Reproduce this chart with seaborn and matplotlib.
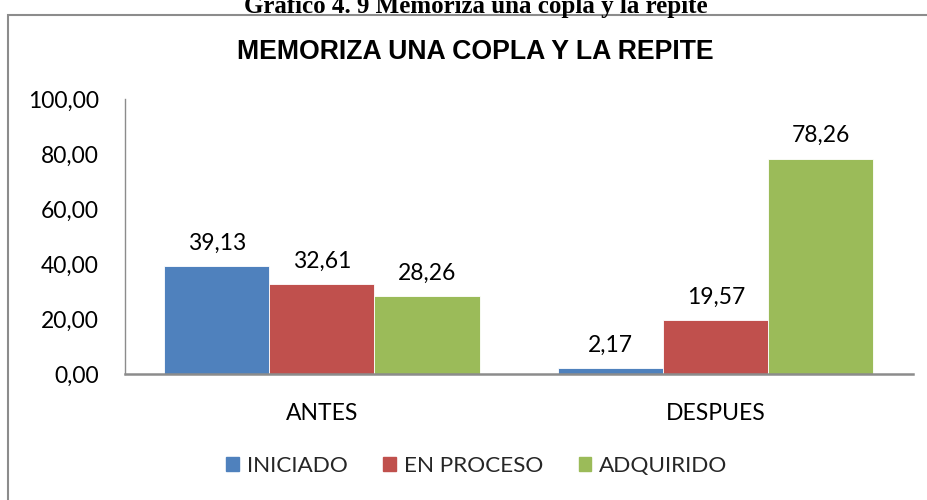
import seaborn as sns
import matplotlib.pyplot as plt
import matplotlib.patches as mpatches
import pandas as pd

# data
momentos = ["ANTES", "DESPUES"]
niveles = ["INICIADO", "EN PROCESO", "ADQUIRIDO"]
iniciado = [39.13, 2.17]
en_proceso = [32.61, 19.57]
adquirido = [28.26, 78.26]
colores = ["#4F81BD", "#C0504D", "#9BBB59"]

df = pd.DataFrame({
    "momento": momentos * 3,
    "nivel": [n for n in niveles for _ in momentos],
    "valor": iniciado + en_proceso + adquirido,
})

sns.set_style("white")
plt.rcParams["font.family"] = ["Lato", "DejaVu Sans"]

fig = plt.figure(figsize=(9.28, 5), dpi=100)
ax = fig.add_axes([0.1347, 0.252, 0.849, 0.55])

sns.barplot(data=df, x="momento", y="valor", hue="nivel", hue_order=niveles,
            palette=colores, saturation=1, width=0.8, gap=0,
            edgecolor="white", linewidth=0.6, legend=False, ax=ax)

for cont in ax.containers:
    ax.bar_label(cont, labels=[f"{v:.2f}".replace(".", ",") for v in cont.datavalues],
                 padding=9, fontsize=16.5, color="black")

ax.set_ylim(0, 100)
ax.set_yticks(range(0, 101, 20))
ax.set_yticklabels([f"{v:.2f}".replace(".", ",") for v in range(0, 101, 20)])
ax.set_xlim(-0.5, 1.5)
ax.set_xlabel("")
ax.set_ylabel("")
ax.tick_params(axis="both", length=0, labelsize=16.5, labelcolor="black")
ax.tick_params(axis="y", pad=19)
ax.tick_params(axis="x", pad=21)
for s in ["top", "right"]:
    ax.spines[s].set_visible(False)
ax.spines["left"].set_color("#8c8c8c")
ax.spines["left"].set_linewidth(1.0)
ax.spines["bottom"].set_color("#8c8c8c")
ax.spines["bottom"].set_linewidth(1.8)

# chart title inside the frame
fig.text(475 / 928, 1 - 52 / 500, "MEMORIZA UNA COPLA Y LA REPITE",
         family="Liberation Sans", weight="bold", fontsize=19.2, ha="center", va="center",
         color="black")

# document caption, cut off at the top
fig.text(476 / 928, 1 - 12.5 / 500, "Grafico 4. 9 Memoriza una copla y la repite",
         family="Liberation Serif", weight="bold", fontsize=18, ha="center", va="baseline",
         color="black")

# chart frame
fig.patches.append(mpatches.Rectangle((8.5 / 928, -0.2), 1.2, 1.2 - 14.5 / 500,
                                      transform=fig.transFigure, fill=False,
                                      edgecolor="#8c8c8c", linewidth=1.5))

handles = [mpatches.Patch(color=c, label=n) for c, n in zip(colores, niveles)]
fig.legend(handles=handles, loc="center", bbox_to_anchor=(477 / 928, 0.068), ncol=3,
           frameon=False, fontsize=16.2, handlelength=0.55, handleheight=0.55,
           handletextpad=0.35, columnspacing=1.6)

fig.savefig("out.png", dpi=100)
